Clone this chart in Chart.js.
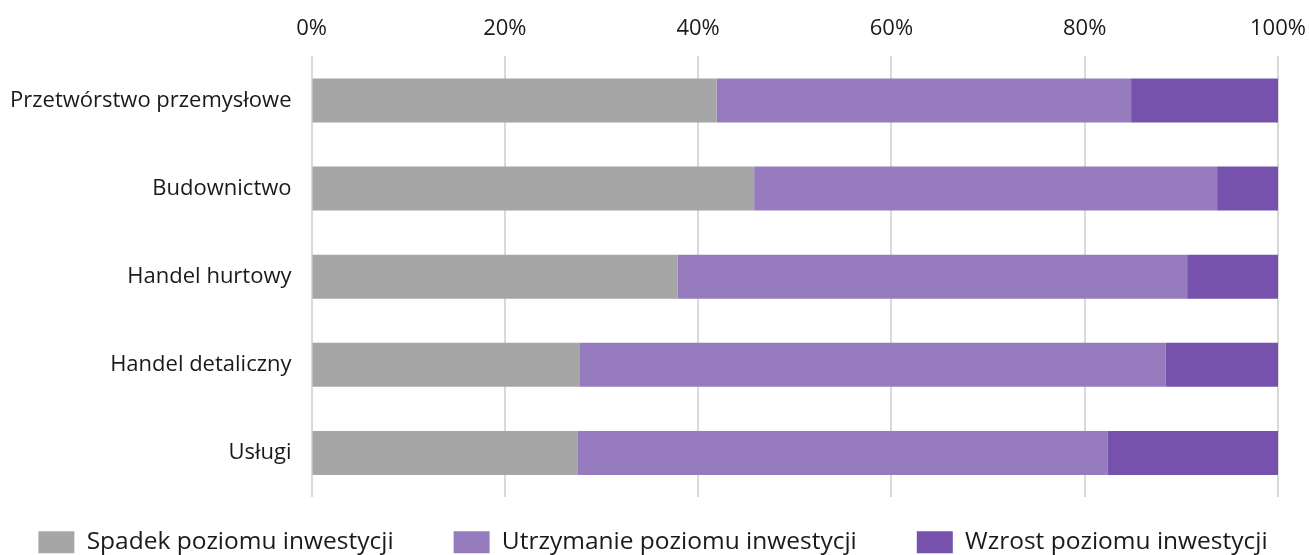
<!DOCTYPE html>
<html><head><meta charset="utf-8">
<script src="https://cdn.jsdelivr.net/npm/chart.js@4/dist/chart.umd.min.js"></script>
<style>html,body{margin:0;padding:0;background:#fff;overflow:hidden}#wrap{width:1309px;height:555px;position:relative}</style>
</head><body><div id="wrap"><canvas id="c"></canvas></div>
<script>
const categories = ["Przetwórstwo przemysłowe","Budownictwo","Handel hurtowy","Handel detaliczny","Usługi"];
const spadek = [41.9, 45.8, 37.9, 27.7, 27.5];
const utrzymanie = [42.9, 47.9, 52.7, 60.7, 54.9];
const wzrost = [15.2, 6.3, 9.4, 11.6, 17.6];
const seriesNames = ["Spadek poziomu inwestycji","Utrzymanie poziomu inwestycji","Wzrost poziomu inwestycji"];
const xTicks = [0,20,40,60,80,100];
const colors = ["#a6a6a6","#967bbf","#7652ad"];
const FONT = "'Open Sans', sans-serif";
const LEGEND_PAD = 60, LEGEND_H = 58, LEGEND_SHIFT_X = 19, LEGEND_SHIFT_Y = 33 - LEGEND_PAD, EXTRA = 2000;
const legendFix = {
  id: 'legendFix',
  beforeInit(chart) {
    const lg = chart.legend;
    if (!lg) return;
    const fit = lg.fit;
    lg.fit = function() {
      const mw = this.maxWidth;
      this.maxWidth = 4000;
      fit.call(this);
      this.maxWidth = mw;
      this.width = mw;
      this.height = LEGEND_H;
    };
    lg.draw = function() {
      if (!this.options.display) return;
      const c = this.ctx, r = this.right;
      c.save();
      c.translate(LEGEND_SHIFT_X - EXTRA / 2, LEGEND_SHIFT_Y);
      this.right = r + EXTRA;
      this._draw();
      this.right = r;
      c.restore();
    };
  }
};
function build() {
new Chart(document.getElementById('c'), {
  type: 'bar',
  data: {
    labels: categories,
    datasets: [spadek, utrzymanie, wzrost].map((d,i)=>({
      label: seriesNames[i], data: d, backgroundColor: colors[i], borderWidth: 0,
      categoryPercentage: 0.5, barPercentage: 1
    }))
  },
  plugins: [legendFix],
  options: {
    indexAxis: 'y', responsive: true, maintainAspectRatio: false, animation: false,
    layout: {padding: {left: -10, right: 31, top: 16, bottom: 0}},
    plugins: {
      tooltip: {enabled: false},
      legend: {position: 'bottom', labels: {boxWidth: 36, boxHeight: 22, padding: LEGEND_PAD, color: '#1a1a1a', font: {family: FONT, size: 24.5}}}
    },
    scales: {
      x: {position: 'top', stacked: true, min: 0, max: 100,
        afterBuildTicks: ax => { ax.ticks = xTicks.map(v=>({value:v})); },
        ticks: {callback: v => v + '%', padding: 0, color: '#1a1a1a', font: {family: FONT, size: 22}},
        grid: {color: '#d9d9d9', lineWidth: 2, drawTicks: true, tickLength: 14, tickColor: 'rgba(0,0,0,0)'}, border: {display: false}},
      y: {stacked: true,
        ticks: {padding: 20, color: '#1a1a1a', font: {family: FONT, size: 22}},
        grid: {display: false, drawTicks: false}, border: {display: false}}
    }
  }
});
}
Promise.all([document.fonts.load("22px 'Open Sans'"), document.fonts.load("24px 'Open Sans'")]).then(build, build);
</script></body></html>
